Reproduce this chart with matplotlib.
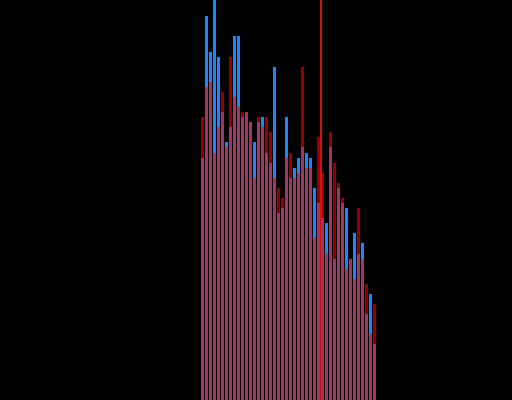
import matplotlib
matplotlib.use("Agg")
import matplotlib.pyplot as plt
import numpy as np

# bin index (categories)
bins = list(range(44))

# series values (counts per bin)
blue_counts = [48, 76, 69, 80, 68, 57, 51, 54, 72, 72,
               56, 57, 55, 51, 55, 56, 49, 47, 66, 37,
               38, 56, 44, 46, 48, 50, 49, 48, 42, 39,
               36, 35, 50, 28, 42, 39, 38, 28, 33, 29,
               31, 17, 21, 11]
red_counts = [56, 62, 63, 49, 54, 61, 50, 68, 60, 58,
              57, 57, 55, 44, 56, 54, 56, 53, 44, 42,
              40, 48, 49, 44, 45, 66, 46, 46, 32, 52,
              45, 29, 53, 47, 43, 40, 26, 28, 24, 38,
              28, 23, 13, 19]
marker_value = 29.9

fig = plt.figure(figsize=(5.12, 4.0), dpi=100, facecolor="black")
ax = fig.add_axes([0, 0, 1, 1])
ax.set_facecolor("black")

ax.bar(bins, blue_counts, width=0.75, align="edge", color="#1a86ff", linewidth=0)
ax.bar(bins, red_counts, width=0.75, align="edge", color="#ff0000", alpha=0.6, linewidth=0)
ax.axvline(marker_value, color="#ff1010", linewidth=1.2)

ax.set_xlim(-50.25, 77.75)
ax.set_ylim(0, 79.2)
ax.axis("off")

fig.savefig("out.png", dpi=100, facecolor="black")
